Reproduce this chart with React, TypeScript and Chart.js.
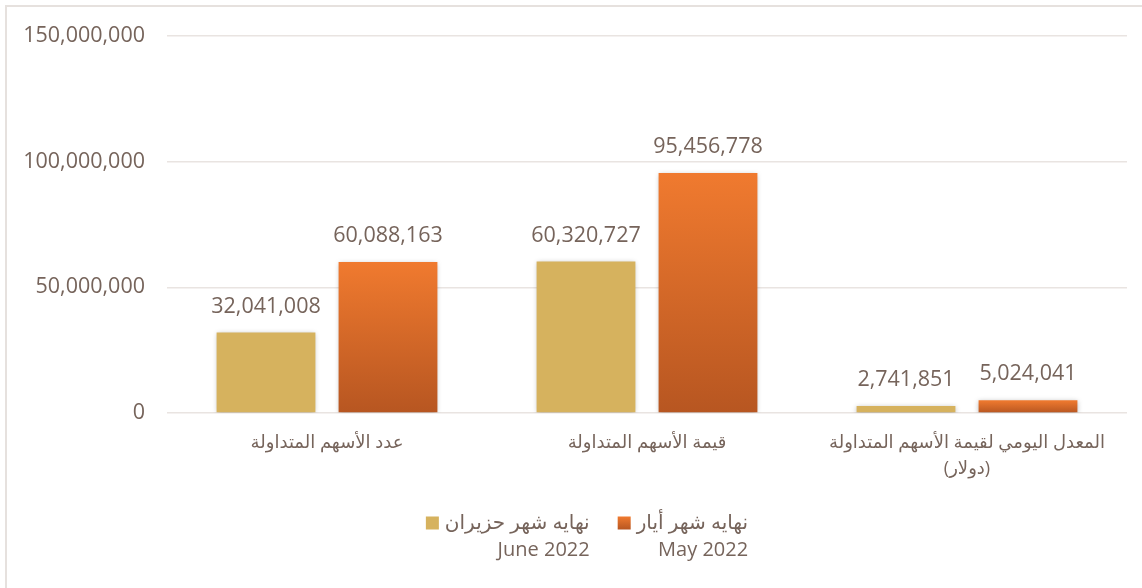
import React, { useEffect, useRef } from "react";
import { Chart, registerables } from "chart.js";

Chart.register(...registerables);

const CATEGORIES: (string | string[])[] = [
  "عدد الأسهم المتداولة",
  "قيمة الأسهم المتداولة",
  ["المعدل اليومي لقيمة الأسهم المتداولة", "(دولار)"],
];
const JUNE_VALUES = [32041008, 60320727, 2741851];
const MAY_VALUES = [60088163, 95456778, 5024041];
const JUNE_LABEL = ["نهايه شهر حزيران", "June 2022"];
const MAY_LABEL = ["نهايه شهر أيار", "May 2022"];
const Y_MAX = 150000000;
const Y_STEP = 50000000;

const TEXT_COLOR = "#76645b";
const GOLD = "#d6b25e";
const ORANGE_TOP = "#f07a2f";
const ORANGE_BOTTOM = "#b75621";
const GRID_COLOR = "#e9e4e1";
const FONT = "'Open Sans', 'DejaVu Sans', sans-serif";

const fmt = (v: number) => v.toLocaleString("en-US");

const orangeGradient = (ctx: CanvasRenderingContext2D, top: number, bottom: number) => {
  const g = ctx.createLinearGradient(0, top, 0, bottom);
  g.addColorStop(0, ORANGE_TOP);
  g.addColorStop(1, ORANGE_BOTTOM);
  return g;
};

const barExtras = {
  id: "barExtras",
  beforeDatasetsDraw(chart: any) {
    const ctx = chart.ctx;
    ctx.save();
    ctx.shadowColor = "rgba(0,0,0,0.28)";
    ctx.shadowBlur = 5;
    ctx.shadowOffsetX = 0;
    ctx.shadowOffsetY = 1;
  },
  afterDatasetsDraw(chart: any) {
    const ctx = chart.ctx;
    ctx.restore();
    ctx.save();
    ctx.font = `21.5px ${FONT}`;
    ctx.fillStyle = TEXT_COLOR;
    ctx.textAlign = "center";
    ctx.textBaseline = "middle";
    chart.data.datasets.forEach((ds: any, i: number) => {
      const meta = chart.getDatasetMeta(i);
      meta.data.forEach((el: any, j: number) => {
        ctx.fillText(fmt(ds.data[j]), el.x, el.y - 26);
      });
    });
    ctx.restore();
  },
};

const customLegend = {
  id: "customLegend",
  afterDraw(chart: any, _args: any, opts: any) {
    const ctx = chart.ctx;
    const items = opts.items as { lines: string[]; kind: string }[];
    const box = 13;
    const gap = 6;
    const itemGap = 28;
    const lineH = 27;
    ctx.save();
    ctx.font = `20px ${FONT}`;
    const widths = items.map((it) => Math.max(...it.lines.map((l) => ctx.measureText(l).width)));
    const total = widths.reduce((a, b) => a + b, 0) + items.length * (box + gap) + itemGap * (items.length - 1);
    let x = opts.centerX - total / 2;
    const y0 = opts.top;
    items.forEach((it, i) => {
      const by = y0 - box / 2;
      ctx.fillStyle = it.kind === "orange" ? orangeGradient(ctx, by, by + box) : GOLD;
      ctx.fillRect(x, by, box, box);
      const right = x + box + gap + widths[i];
      ctx.fillStyle = TEXT_COLOR;
      ctx.textAlign = "right";
      ctx.textBaseline = "middle";
      it.lines.forEach((l, k) => ctx.fillText(l, right, y0 + k * lineH));
      x = right + itemGap;
    });
    ctx.restore();
  },
};

export default function App() {
  const ref = useRef<HTMLCanvasElement>(null);
  useEffect(() => {
    if (!ref.current) return;
    const chart = new Chart(ref.current, {
      type: "bar",
      data: {
        labels: CATEGORIES,
        datasets: [
          {
            label: JUNE_LABEL.join(" "),
            data: JUNE_VALUES,
            backgroundColor: GOLD,
            borderWidth: 0,
          },
          {
            label: MAY_LABEL.join(" "),
            data: MAY_VALUES,
            backgroundColor: (c: any) => {
              const chart = c.chart;
              if (!chart.chartArea || c.type !== "data") return ORANGE_TOP;
              const y = chart.scales.y;
              const top = y.getPixelForValue(c.raw);
              const bottom = y.getPixelForValue(0);
              return orangeGradient(chart.ctx, top, bottom);
            },
            borderWidth: 0,
          },
        ],
      },
      options: {
        responsive: false,
        animation: false,
        categoryPercentage: 0.7625,
        barPercentage: 0.81,
        layout: { padding: { left: 24, right: 15, top: 36, bottom: 90 } },
        plugins: {
          legend: { display: false },
          tooltip: { enabled: false },
          customLegend: {
            items: [
              { lines: JUNE_LABEL, kind: "gold" },
              { lines: MAY_LABEL, kind: "orange" },
            ],
            centerX: 587,
            top: 523,
          },
        } as any,
        scales: {
          x: {
            grid: { display: false },
            border: { display: false },
            ticks: {
              color: TEXT_COLOR,
              font: { family: FONT, size: 18, lineHeight: 1.45 },
              padding: 9,
              maxRotation: 0,
              autoSkip: false,
            },
            afterFit: (s: any) => {
              s.height = 85;
            },
          },
          y: {
            min: 0,
            max: Y_MAX,
            grid: { color: GRID_COLOR, lineWidth: 1.5, drawTicks: false },
            border: { display: false },
            ticks: {
              stepSize: Y_STEP,
              color: TEXT_COLOR,
              font: { family: FONT, size: 21.5 },
              padding: 22,
              callback: (v: any) => fmt(Number(v)),
            },
            afterFit: (s: any) => {
              s.width = 143;
            },
          },
        },
      },
      plugins: [barExtras, customLegend],
    });
    return () => chart.destroy();
  }, []);

  return (
    <div
      style={{
        position: "fixed",
        left: 0,
        top: 0,
        width: 1142,
        height: 588,
        overflow: "hidden",
        background: "#fff",
      }}
    >
      <div
        style={{
          position: "absolute",
          left: 5,
          top: 5,
          width: 1200,
          height: 700,
          border: "2px solid #e6e1de",
        }}
      />
      <canvas ref={ref} width={1142} height={588} style={{ position: "absolute", left: 0, top: 0 }} />
    </div>
  );
}
